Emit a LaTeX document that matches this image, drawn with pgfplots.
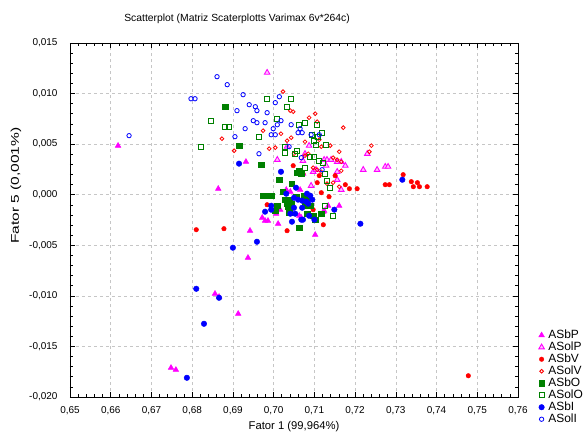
\documentclass[border=0pt]{standalone}
\usepackage{fontspec}
\setmainfont{Liberation Sans}
\usepackage{pgfplots}
\pgfplotsset{compat=1.18}
\definecolor{mag}{RGB}{255,0,255}
\definecolor{rd}{RGB}{255,0,0}
\definecolor{gr}{RGB}{0,128,0}
\definecolor{bl}{RGB}{0,0,255}
\begin{document}
\begin{tikzpicture}
\begin{axis}[
  at={(0,0)}, anchor=south west,
  scale only axis, width=448bp, height=354bp,
  xmin=0.65, xmax=0.76, ymin=-0.02, ymax=0.015,
  xtick={0.65,0.66,0.67,0.68,0.69,0.70,0.71,0.72,0.73,0.74,0.75,0.76},
  ytick={-0.020,-0.015,-0.010,-0.005,0,0.005,0.010,0.015},
  minor x tick num=4, minor y tick num=4,
  tick align=inside,
  major tick length=5bp, minor tick length=3bp,
  tick style={black, line width=0.6pt},
  axis line style={black, line width=0.8pt},
  grid=major, major grid style={dashed, gray!45, line width=0.5pt},
  scaled ticks=false,
  /pgf/number format/assume math mode=true,
  xticklabel style={/pgf/number format/.cd, fixed, fixed zerofill, precision=2, use comma, /tikz/.cd, yshift=-6bp},
  yticklabel style={/pgf/number format/.cd, fixed, fixed zerofill, precision=3, use comma, /tikz/.cd, xshift=-9bp},
  ticklabel style={font=\fontsize{10}{12}\selectfont},
  xlabel={Fator 1 (99,964\%)},
  ylabel={\scalebox{1.38}[1]{Fator 5 (0,001\%)}},
  x label style={at={(axis description cs:0.5,-0.083)}, anchor=center, font=\fontsize{11.3}{13}\selectfont},
  y label style={at={(axis description cs:-0.1205,0.597)}, anchor=center, font=\fontsize{11.3}{13}\selectfont},
  every axis title shift=0pt,
  title={Scatterplot (Matriz Scaterplotts Varimax 6v*264c)},
  title style={at={(axis description cs:0.373,1.067)}, anchor=center, font=\fontsize{10.4}{12}\selectfont},
  legend style={at={(axis description cs:1.046,0.192)}, anchor=north west, draw=none, fill=none,
    font=\fontsize{12}{12}\selectfont, row sep=0pt, inner sep=0pt,
    nodes={inner sep=0pt, text height=9bp, text depth=3bp},
    /tikz/every odd column/.append style={column sep=4bp}},
  legend cell align=left,
  legend image code/.code={\draw[mark repeat=2,mark phase=2,#1] plot coordinates {(0cm,0cm) (0.1cm,0cm) (0.2cm,0cm)};},
  clip=false,
]
% ASbP
\addplot[only marks, mark=triangle*, mark size=3.2pt, mark options={draw=mag, fill=mag, line width=0.5pt}] coordinates {
(0.6856,-0.00979) (0.6866,-0.01009) (0.6913,-0.01177) (0.6748,-0.01711) (0.6760,-0.01731)
(0.6937,-0.00623) (0.6942,-0.00356) (0.6972,-0.00227) (0.6979,-0.00257) (0.6986,-0.00257)
(0.7006,-0.00188) (0.7011,-0.00287) (0.7016,-0.00148) (0.6618,0.00485) (0.6864,0.00059)
(0.6932,0.00326) (0.7102,-0.00396) (0.7124,-0.00158) (0.7068,-0.00227) (0.7063,-0.00208)
(0.7075,-0.00030) (0.7031,0.00049) (0.7041,0.00030) (0.7065,0.00049) (0.7161,-0.00109)
(0.7134,-0.00109) (0.7122,-0.00168)
};
\addlegendentry{ASbP}
% ASolP
\addplot[only marks, mark=triangle*, mark size=3.2pt, mark options={draw=mag, fill=mag!25, line width=0.9pt}] coordinates {
(0.6984,0.01207) (0.7009,0.00346) (0.7033,0.00475) (0.7077,0.00405) (0.7072,0.00336)
(0.7087,0.00485) (0.7097,0.00227) (0.7104,0.00247) (0.7072,0.00208) (0.7124,0.00346)
(0.7131,0.00346) (0.7141,0.00346) (0.7129,0.00287) (0.7156,0.00326) (0.7166,0.00326)
(0.7176,0.00287) (0.7156,0.00227) (0.7156,0.00148) (0.7166,0.00049) (0.7092,0.00089)
(0.7230,0.00405) (0.7220,0.00247) (0.7254,0.00247) (0.7274,0.00277) (0.7281,0.00277)
};
\addlegendentry{ASolP}
% ASbV
\addplot[only marks, mark=*, mark size=2.3pt, mark options={draw=rd, fill=rd, line width=0.4pt}] coordinates {
(0.6810,-0.00346) (0.6878,-0.00336) (0.6984,-0.00099) (0.7033,-0.00356) (0.7048,0.00287)
(0.7072,0.00208) (0.7097,-0.00148) (0.7107,0.00119) (0.7117,0.00020) (0.7136,-0.00020)
(0.7112,0.00188) (0.7151,0.00188) (0.7176,0.00099) (0.7186,0.00059) (0.7205,0.00059)
(0.7274,0.00099) (0.7284,0.00099) (0.7318,0.00198) (0.7338,0.00129) (0.7353,0.00119)
(0.7343,0.00079) (0.7358,0.00079) (0.7377,0.00079) (0.7122,-0.00297) (0.7478,-0.01790)
};
\addlegendentry{ASbV}
% ASolV
\addplot[only marks, mark=o, mark size=1.9pt, mark options={draw=rd, line width=0.8pt}] coordinates {
(0.6873,0.00554) (0.6903,0.00435) (0.6974,0.00633) (0.6989,0.00455) (0.7004,0.00465)
(0.7018,0.00603) (0.7023,0.01019) (0.7033,0.00534) (0.7041,0.00831) (0.7048,0.00821)
(0.7043,0.00564) (0.7050,0.00405) (0.7077,0.00524) (0.7077,0.00386) (0.7087,0.00762)
(0.7102,0.00801) (0.7107,0.00722) (0.7112,0.00544) (0.7117,0.00475) (0.7139,0.00485)
(0.7161,0.00425) (0.7171,0.00663) (0.7146,0.00366) (0.7156,0.00346) (0.7166,0.00326)
(0.7235,0.00425) (0.7240,0.00485) (0.7097,0.00267) (0.7107,0.00247) (0.7117,0.00227)
(0.7166,0.00237) (0.7146,0.00119) (0.7161,0.00079) (0.7131,0.00109) (0.7085,0.00405)
};
\addlegendentry{ASolV}
% ASbO
\addplot[only marks, mark=square*, mark size=2.7pt, mark options={draw=gr, fill=gr, line width=0.4pt}] coordinates {
(0.6881,0.00870) (0.6915,0.00485) (0.6969,0.00297) (0.7014,0.00148) (0.7058,0.00218)
(0.7068,0.00208) (0.7063,0.00237) (0.6974,-0.00010) (0.6994,-0.00010) (0.7023,0.00030)
(0.7045,0.00109) (0.7038,-0.00049) (0.7033,-0.00089) (0.7043,-0.00089) (0.7009,-0.00109)
(0.7038,-0.00148) (0.7038,-0.00178) (0.7075,-0.00010) (0.7080,-0.00049) (0.7080,-0.00109)
(0.7082,-0.00188) (0.7097,-0.00208) (0.7102,-0.00247) (0.7117,-0.00188) (0.7063,-0.00326)
(0.7028,-0.00049) (0.7036,-0.00119) (0.7004,-0.00158) (0.6984,-0.00010) (0.7077,-0.00069)
(0.7090,-0.00109) (0.7055,-0.00020)
};
\addlegendentry{ASbO}
% ASolO
\addplot[only marks, mark=square, mark size=2.5pt, mark options={draw=gr, line width=0.8pt}] coordinates {
(0.6822,0.00475) (0.6846,0.00732) (0.6881,0.00673) (0.6891,0.00673) (0.6964,0.00574)
(0.6984,0.00949) (0.7043,0.00949) (0.7033,0.00870) (0.7009,0.00752) (0.7063,0.00692)
(0.7077,0.00712) (0.7107,0.00692) (0.7028,0.00475) (0.7028,0.00415) (0.7053,0.00405)
(0.7058,0.00435) (0.7077,0.00267) (0.7095,0.00593) (0.7100,0.00376) (0.7090,0.00376)
(0.7119,0.00613) (0.7109,0.00574) (0.7100,0.00534) (0.7104,0.00495) (0.7129,0.00495)
(0.7112,0.00336) (0.7122,0.00316) (0.7127,0.00208) (0.7131,0.00138) (0.7139,0.00069)
(0.7127,-0.00109) (0.7146,-0.00208)
};
\addlegendentry{ASolO}
% ASbI
\addplot[only marks, mark=*, mark size=2.8pt, mark options={draw=bl, fill=bl, line width=0.4pt}] coordinates {
(0.6915,0.00307) (0.7018,0.00227) (0.7031,0.00010) (0.7055,0.00069) (0.7082,0.00010)
(0.7050,-0.00030) (0.7060,-0.00049) (0.7070,-0.00059) (0.7090,-0.00010) (0.7095,-0.00049)
(0.7080,-0.00069) (0.7050,-0.00129) (0.7085,-0.00089) (0.7070,-0.00129) (0.6994,-0.00109)
(0.6994,-0.00148) (0.6979,-0.00168) (0.7041,-0.00188) (0.7053,-0.00188) (0.7045,-0.00267)
(0.7068,-0.00247) (0.7072,-0.00247) (0.7087,-0.00208) (0.7100,-0.00247) (0.7149,-0.00148)
(0.7213,-0.00287) (0.7316,0.00148) (0.6959,-0.00465) (0.6900,-0.00524) (0.6810,-0.00930)
(0.6866,-0.01019) (0.6829,-0.01276) (0.6787,-0.01810)
};
\addlegendentry{ASbI}
% ASolI
\addplot[only marks, mark=o, mark size=2.2pt, mark options={draw=bl, line width=0.8pt}] coordinates {
(0.6645,0.00584) (0.6797,0.00949) (0.6807,0.00949) (0.6861,0.01167) (0.6886,0.01088)
(0.6925,0.00989) (0.6910,0.00831) (0.6940,0.00890) (0.6955,0.00870) (0.6959,0.00831)
(0.6984,0.00811) (0.7004,0.00910) (0.7014,0.00969) (0.6950,0.00732) (0.6959,0.00712)
(0.6979,0.00712) (0.6930,0.00653) (0.6905,0.00574) (0.6999,0.00653) (0.7009,0.00692)
(0.7018,0.00732) (0.6994,0.00593) (0.7004,0.00593) (0.7043,0.00692) (0.7065,0.00653)
(0.7070,0.00613) (0.7060,0.00613) (0.7092,0.00593) (0.7112,0.00593) (0.6964,0.00405)
(0.7038,0.00475) (0.7068,0.00366) (0.7119,0.00247)
};
\addlegendentry{ASolI}
\end{axis}
\pgfresetboundingbox
\path (-70bp,-36bp) rectangle (517bp,397bp);
\end{tikzpicture}
\end{document}
